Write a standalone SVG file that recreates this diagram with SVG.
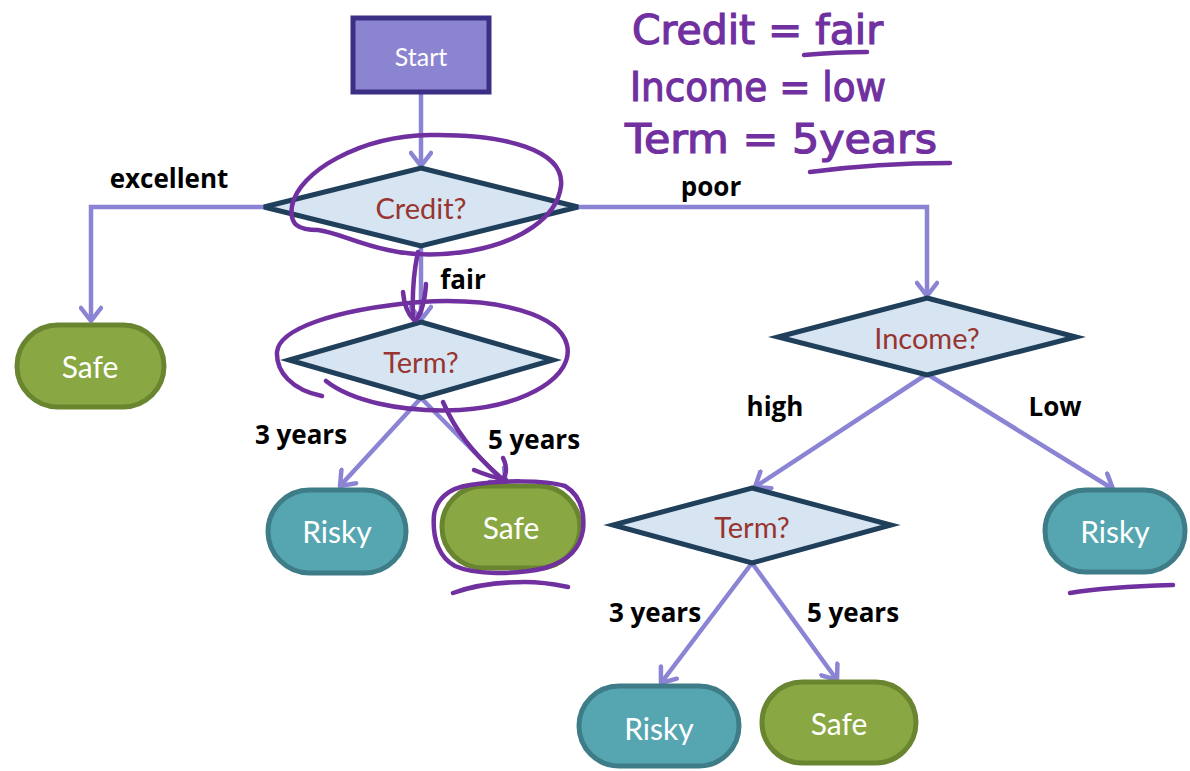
<svg xmlns="http://www.w3.org/2000/svg" width="1190" height="771" viewBox="0 0 1190 771">
<style>
.dia{fill:#d7e4f2;stroke:#1f3f5a;stroke-width:5;stroke-linejoin:miter}
.q{font-family:Lato,"Open Sans",sans-serif;font-size:29px;fill:#983531;text-anchor:middle;dominant-baseline:central}
.safe{fill:#89a843;stroke:#6a8530;stroke-width:5}
.risky{fill:#56a6b2;stroke:#3e7d87;stroke-width:5}
.nt{font-family:Lato,"Open Sans",sans-serif;font-size:30px;fill:#ffffff;text-anchor:middle;dominant-baseline:central}
.lbl{font-family:"Open Sans",Lato,sans-serif;font-weight:bold;font-size:26px;fill:#000;text-anchor:middle}
.con{fill:none;stroke:#8b84d4;stroke-width:4.5}
.ink{fill:none;stroke:#7030a0;stroke-width:4.5;stroke-linecap:round;stroke-linejoin:round}
.hw{font-family:"DejaVu Sans",sans-serif;font-size:40px;fill:#7030a0;stroke:#7030a0;stroke-width:1.2}
</style>
<defs>
<marker id="arr" viewBox="0 0 20 24" refX="17" refY="12" markerWidth="20" markerHeight="24" markerUnits="userSpaceOnUse" orient="auto">
<path d="M4,2 L17,12 L4,22" fill="none" stroke="#8b84d4" stroke-width="4.5" stroke-linecap="round" stroke-linejoin="round"/>
</marker>
</defs>
<rect width="1190" height="771" fill="#fff"/>

<g id="connectors">
<line class="con" x1="421" y1="94" x2="421" y2="166" marker-end="url(#arr)"/>
<polyline class="con" points="264,207 91,207 91,321" marker-end="url(#arr)"/>
<polyline class="con" points="578,207 927,207 927,296" marker-end="url(#arr)"/>
<line class="con" x1="421" y1="247" x2="421" y2="320" marker-end="url(#arr)"/>
<line class="con" x1="421" y1="398" x2="340" y2="486" marker-end="url(#arr)"/>
<line class="con" x1="421" y1="398" x2="506" y2="484" marker-end="url(#arr)"/>
<line class="con" x1="927" y1="374" x2="755" y2="487" marker-end="url(#arr)"/>
<line class="con" x1="927" y1="374" x2="1113" y2="489" marker-end="url(#arr)"/>
<line class="con" x1="752" y1="563" x2="661" y2="683" marker-end="url(#arr)"/>
<line class="con" x1="752" y1="563" x2="837" y2="680" marker-end="url(#arr)"/>
<text class="lbl" x="169" y="188">excellent</text>
<text class="lbl" x="711" y="196">poor</text>
<text class="lbl" x="463" y="289">fair</text>
<text class="lbl" x="301" y="444">3 years</text>
<text class="lbl" x="534" y="449">5 years</text>
<text class="lbl" x="775" y="416">high</text>
<text class="lbl" x="1055" y="416">Low</text>
<text class="lbl" x="655" y="622">3 years</text>
<text class="lbl" x="853" y="622">5 years</text>
</g>

<g id="start">
<rect x="353" y="18" width="136" height="74" fill="#8b84d1" stroke="#3a2f85" stroke-width="5"/>
<text class="nt" x="421" y="56" style="font-size:25px">Start</text>
</g>

<g id="credit">
<polygon class="dia" points="421,168 578,207 421,246 264,207"/>
<text class="q" x="421" y="207">Credit?</text>
</g>

<g id="safe1">
<rect class="safe" x="17" y="325" width="147" height="82" rx="41"/>
<text class="nt" x="90" y="366">Safe</text>
</g>

<g id="term1">
<polygon class="dia" points="421,322 553,360 421,398 289,360"/>
<text class="q" x="421" y="361">Term?</text>
</g>

<g id="income">
<polygon class="dia" points="927,298 1076,337 927,375 778,337"/>
<text class="q" x="927" y="337">Income?</text>
</g>

<g id="risky1">
<rect class="risky" x="268" y="490" width="138" height="83" rx="41.5"/>
<text class="nt" x="337" y="531">Risky</text>
</g>

<g id="safe2">
<rect class="safe" x="442" y="486" width="138" height="82" rx="41"/>
<text class="nt" x="511" y="527">Safe</text>
</g>

<g id="risky2">
<rect class="risky" x="1045" y="490" width="140" height="82" rx="41"/>
<text class="nt" x="1115" y="531">Risky</text>
</g>

<g id="term2">
<polygon class="dia" points="752,488 891,525 752,563 613,525"/>
<text class="q" x="752" y="526">Term?</text>
</g>

<g id="risky3">
<rect class="risky" x="579" y="686" width="160" height="80" rx="40"/>
<text class="nt" x="659" y="728">Risky</text>
</g>

<g id="safe3">
<rect class="safe" x="762" y="682" width="154" height="81" rx="40.5"/>
<text class="nt" x="839" y="723">Safe</text>
</g>

<g id="annotations">
<text class="hw" x="632" y="44" textLength="251" lengthAdjust="spacingAndGlyphs">Credit = fair</text>
<text class="hw" x="630" y="101" textLength="256" lengthAdjust="spacingAndGlyphs">Income = low</text>
<text class="hw" x="625" y="153" textLength="312" lengthAdjust="spacingAndGlyphs">Term = 5years</text>
<path class="ink" d="M804,55 C826,53 848,52 867,52"/>
<path class="ink" d="M810,172 C855,166 905,163 950,163"/>
<path class="ink" d="M318,230 C300,230 289,226 292,206 C298,172 360,136 430,135 C505,134 565,150 561,186 C557,218 520,242 470,251 C440,256 410,255 388,250 C358,244 336,232 318,230"/>
<path class="ink" d="M418,252 C414,270 412,292 413,318"/>
<path class="ink" d="M403,292 C404,305 408,314 414,320 M426,284 C425,300 422,312 416,320"/>
<path class="ink" d="M322,396 C292,390 276,372 277,352 C279,330 330,310 420,302 C500,297 560,315 567,345 C574,375 530,405 460,410 C400,413 350,400 326,381"/>
<path class="ink" d="M443,402 C455,430 472,452 500,477"/>
<path class="ink" d="M474,470 C486,475 496,478 506,480 M503,458 C508,468 506,476 502,480"/>
<path class="ink" d="M470,485 C500,480 545,480 565,486 C580,495 585,510 583,530 C580,548 570,560 545,568 C515,575 475,575 455,566 C440,558 432,540 434,515 C436,500 448,488 470,485"/>
<path class="ink" d="M453,593 C475,585 500,582 525,582 C545,582 558,585 568,587"/>
<path class="ink" d="M1070,593 C1100,588 1140,586 1173,585"/>
</g>
</svg>
